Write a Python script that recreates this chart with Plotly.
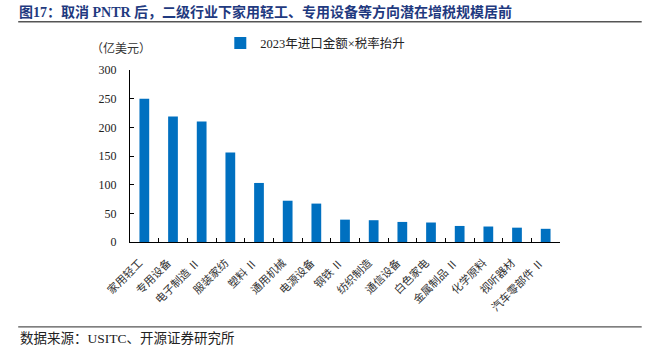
import plotly.graph_objects as go

# 二级行业及潜在增税规模（亿美元）
categories = ["家用轻工", "专用设备", "电子制造 Ⅱ", "服装家纺", "塑料 Ⅱ", "通用机械", "电源设备",
              "钢铁 Ⅱ", "纺织制造", "通信设备", "白色家电", "金属制品 Ⅱ", "化学原料", "视听器材",
              "汽车零部件 Ⅱ"]
values = [250, 219, 210, 156, 103, 72, 67, 39, 38, 35, 34, 28, 27, 25, 23]
series_name = "2023年进口金额×税率抬升"
y_ticks = [0, 50, 100, 150, 200, 250, 300]

BAR = "#0070C0"
CJK = "Noto Sans CJK SC"
SERIF = "Liberation Serif, " + CJK

fig = go.Figure()
fig.add_trace(go.Bar(
    x=categories, y=values, name=series_name,
    marker=dict(color=BAR, line=dict(width=0)),
    showlegend=True,
))

fig.update_layout(
    width=648, height=350,
    margin=dict(l=130, r=88, t=70, b=108),
    paper_bgcolor="white", plot_bgcolor="white",
    bargap=0.66,
    font=dict(family=SERIF, size=11, color="#222"),
    legend=dict(
        orientation="h", x=0.21, y=1.155, xanchor="left", yanchor="middle",
        font=dict(family=SERIF, size=12.5, color="#222"),
        itemwidth=30, bgcolor="rgba(0,0,0,0)",
    ),
    xaxis=dict(
        type="category", tickangle=-45, showline=True, linecolor="black", linewidth=1.2,
        ticks="inside", tickson="boundaries", ticklen=4, tickcolor="black",
        tickfont=dict(family=CJK, size=11, color="#333"),
        ticklabelstandoff=9, ticklabelshift=-5,
        showgrid=False, range=[-0.5, len(categories) - 0.5],
    ),
    yaxis=dict(
        range=[0, 300], tickvals=y_ticks, showline=True, linecolor="black", linewidth=1.2,
        ticks="inside", ticklen=4, tickcolor="black", showgrid=False, zeroline=False,
        tickfont=dict(family=SERIF, size=12, color="#222"), ticklabelstandoff=10,
    ),
)

# 标题、单位、来源
fig.add_annotation(
    text="<b>图17：取消 PNTR 后，二级行业下家用轻工、专用设备等方向潜在增税规模居前</b>",
    xref="paper", yref="paper", x=-0.262, y=1.337, xanchor="left", yanchor="middle",
    showarrow=False, font=dict(family="Liberation Serif, " + CJK, size=14, color="#1F3A80"),
)
fig.add_annotation(
    text="（亿美元）", xref="paper", yref="paper", x=-0.095, y=1.13,
    xanchor="left", yanchor="middle", showarrow=False,
    font=dict(family=CJK, size=12, color="#333"),
)
fig.add_annotation(
    text="数据来源：USITC、开源证券研究所", xref="paper", yref="paper", x=-0.26, y=-0.56,
    xanchor="left", yanchor="middle", showarrow=False,
    font=dict(family=SERIF, size=13.5, color="#222"),
)
# 标题下与来源上方的分隔线
fig.add_shape(type="line", xref="paper", yref="paper", x0=-0.26, x1=1.19, y0=1.28, y1=1.28,
              line=dict(color="#555", width=1.5))
fig.add_shape(type="line", xref="paper", yref="paper", x0=-0.26, x1=1.19, y0=-0.494, y1=-0.494,
              line=dict(color="#555", width=1.2))

fig.write_html("out.html")
